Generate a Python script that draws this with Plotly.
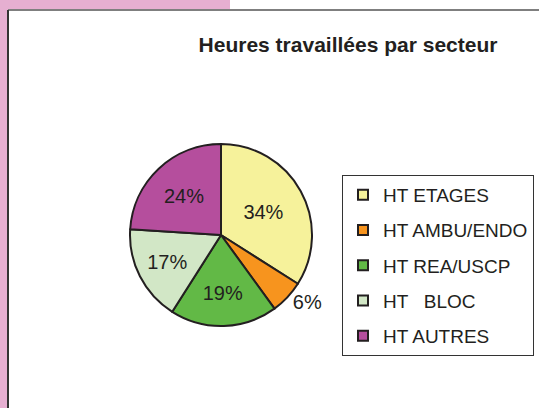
import plotly.graph_objects as go

# données
secteurs = ["HT ETAGES", "HT AMBU/ENDO", "HT REA/USCP", "HT   BLOC", "HT AUTRES"]
parts = [34, 6, 19, 17, 24]
couleurs = ["#F6F29B", "#F7941E", "#62B946", "#D2E7C6", "#B54E9D"]
positions_texte = ["inside", "outside", "inside", "inside", "inside"]

W, H = 539, 408
encre = "#231F20"
rose = "#E6AFD1"


def px_x(v):
    return v / W


def px_y(v):
    return 1 - v / H


fig = go.Figure()

cx, cy, r = 221, 235, 91
fig.add_trace(go.Pie(
    labels=secteurs,
    values=parts,
    sort=False,
    direction="clockwise",
    rotation=0,
    marker=dict(colors=couleurs, line=dict(color=encre, width=2)),
    texttemplate="%{percent:.0%}",
    textposition=positions_texte,
    insidetextorientation="horizontal",
    textfont=dict(family="Liberation Sans, Arial", size=20, color=encre),
    domain=dict(x=[px_x(cx - r), px_x(cx + r)], y=[px_y(cy + r), px_y(cy - r)]),
    showlegend=False,
    hoverinfo="label+percent",
))

# légende : une entrée par secteur, pour pouvoir espacer les lignes
for nom, coul in zip(secteurs, couleurs):
    fig.add_trace(go.Scatter(
        x=[None], y=[None], mode="markers", name=nom, legendgroup=nom,
        marker=dict(symbol="square", size=10, color=coul, line=dict(color=encre, width=2)),
    ))

fig.update_layout(
    width=W, height=H,
    margin=dict(l=0, r=0, t=0, b=0),
    paper_bgcolor="white",
    plot_bgcolor="rgba(0,0,0,0)",
    xaxis=dict(visible=False),
    yaxis=dict(visible=False),
    font=dict(family="Liberation Sans, Arial", color=encre),
    title=dict(
        text="<b>Heures travaillées par secteur</b>",
        x=px_x(348), xanchor="center",
        y=px_y(45), yanchor="middle",
        font=dict(size=21, color=encre),
    ),
    legend=dict(
        x=px_x(342), xanchor="left",
        y=px_y(175), yanchor="top",
        bgcolor="white",
        bordercolor="#333333",
        borderwidth=1,
        font=dict(size=19, color=encre),
        tracegroupgap=7.5,
        itemwidth=30,
        traceorder="grouped",
    ),
    shapes=[
        dict(type="rect", xref="paper", yref="paper", layer="below",
             x0=0, x1=px_x(230), y0=px_y(0), y1=px_y(10),
             fillcolor=rose, line=dict(width=0)),
        dict(type="rect", xref="paper", yref="paper", layer="below",
             x0=0, x1=px_x(8), y0=px_y(0), y1=px_y(H),
             fillcolor=rose, line=dict(width=0)),
        dict(type="line", xref="paper", yref="paper",
             x0=px_x(8), x1=px_x(W), y0=px_y(10), y1=px_y(10),
             line=dict(color="#7F7F7F", width=2)),
        dict(type="line", xref="paper", yref="paper",
             x0=px_x(8), x1=px_x(8), y0=px_y(10), y1=px_y(H),
             line=dict(color="#333333", width=2)),
    ],
)

fig.write_html("out.html", config={"displayModeBar": False},
               post_script="document.body.style.margin='0';")
